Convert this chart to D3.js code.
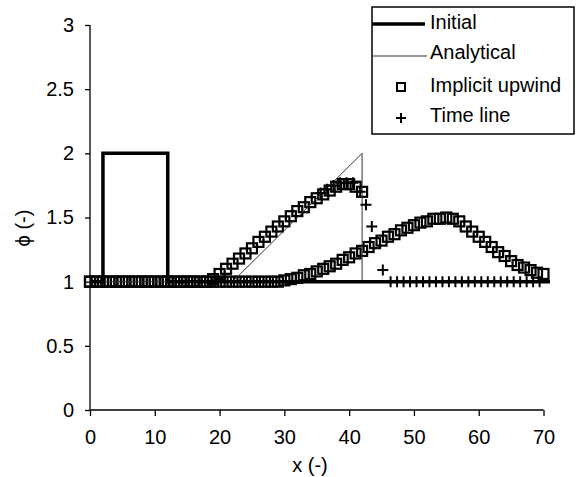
<!DOCTYPE html>
<html>
<head>
<meta charset="utf-8">
<script src="https://cdn.jsdelivr.net/npm/d3@7"></script>
<style>
  body { margin: 0; background: #fff; }
  text { font-family: "Liberation Sans", Arial, sans-serif; fill: #000; }
</style>
</head>
<body>
<div id="plot"></div>
<script>
// initial condition (square pulse)
const initX = [0, 2, 2, 12, 12, 71];
const initY = [1, 1, 2, 2, 1, 1];

// analytical solution (triangle with shock)
const anaX = [0, 22, 42, 42, 71];
const anaY = [1, 1, 2, 1, 1];

// implicit upwind, first time
const up1X = [0,1,2,3,4,5,6,7,8,9,10,11,12,13,14,15,16,17,18,19,20,21,22,23,24,25,26,27,28,29,30,31,32,33,34,35,36,37,38,39,40,41,42];
const up1Y = [1,1,1,1,1,1,1,1,1,1,1,1,1,1,1,1,1,1,1.0,1.02,1.06,1.10,1.14,1.18,1.22,1.26,1.31,1.35,1.39,1.43,1.47,1.51,1.55,1.58,1.62,1.65,1.68,1.71,1.74,1.76,1.76,1.74,1.70];

// implicit upwind, second time
const up2X = [0,1,2,3,4,5,6,7,8,9,10,11,12,13,14,15,16,17,18,19,20,21,22,23,24,25,26,27,28,29,30,31,32,33,34,35,36,37,38,39,40,41,42,43,44,45,46,47,48,49,50,51,52,53,54,55,56,57,58,59,60,61,62,63,64,65,66,67,68,69,70];
const up2Y = [1,1,1,1,1,1,1,1,1,1,1,1,1,1,1,1,1,1,1,1,1,1,1,1,1,1,1,1,1,1,1.01,1.02,1.03,1.05,1.06,1.08,1.10,1.12,1.14,1.17,1.19,1.22,1.24,1.27,1.30,1.32,1.35,1.37,1.40,1.42,1.44,1.46,1.47,1.49,1.49,1.50,1.49,1.47,1.43,1.39,1.35,1.31,1.27,1.23,1.20,1.16,1.13,1.11,1.09,1.07,1.06];

// time line
const tlX = [35.6,36.6,37.6,38.6,39.6,40.6,41.7,42.6,43.5,45.2,46.4,47.4,48.4,49.4,50.4,51.4,52.4,53.4,54.4,55.4,56.4,57.4,58.4,59.4,60.4,61.4,62.4,63.4,64.4,65.4,66.4,67.4,68.4,69.4];
const tlY = [1.69,1.72,1.75,1.77,1.77,1.77,1.70,1.60,1.43,1.09,1,1,1,1,1,1,1,1,1,1,1,1,1,1,1,1,1,1,1,1,1,1,1,1];

const yTicks = [0, 0.5, 1, 1.5, 2, 2.5, 3];
const xTicks = [0, 10, 20, 30, 40, 50, 60, 70];
const legendLabels = ["Initial", "Analytical", "Implicit upwind", "Time line"];

window.addEventListener("load", main);

function main(){
  const width = 576, height = 477;
  const zip = (xs, ys) => xs.map((x, i) => [x, ys[i]]);

  let x = d3.scaleLinear().domain([0, 70]).range([90, 543.5]);
  let y = d3.scaleLinear().domain([0, 3]).range([410, 25]);

  let svg = d3.select('#plot')
    .append('svg')
    .attr('width', width)
    .attr('height', height);

  // axes
  let xAxis = svg.append('g').attr('transform', 'translate(0,410)');
  xAxis.call(d3.axisBottom(x).tickValues(d3.range(0, 71, 5)).tickSize(5).tickFormat(''))
    .call(g => g.select('.domain').remove());
  xAxis.call(d3.axisBottom(x).tickValues(xTicks).tickSize(6).tickPadding(14)
    .tickFormat(d3.format('d')))
    .call(g => g.select('.domain').attr('d', 'M90,0H543.5'));
  xAxis.selectAll('text').attr('font-size', 20).attr('font-family', '"Liberation Sans", Arial');
  xAxis.selectAll('line, path').attr('stroke', '#000').attr('stroke-width', 1.3);

  let yAxis = svg.append('g').attr('transform', 'translate(90,0)');
  yAxis.call(d3.axisLeft(y).tickValues(d3.range(0, 31).map(d => d / 10)).tickSize(4).tickFormat(''))
    .call(g => g.select('.domain').remove());
  yAxis.call(d3.axisLeft(y).tickValues(yTicks).tickSize(5).tickPadding(11)
    .tickFormat(d => d3.format('')(d)))
    .call(g => g.select('.domain').attr('d', 'M0,25V410'));
  yAxis.selectAll('text').attr('font-size', 20).attr('font-family', '"Liberation Sans", Arial');
  yAxis.selectAll('line, path').attr('stroke', '#000').attr('stroke-width', 1.3);

  svg.append('text').attr('x', 310).attr('y', 472)
    .attr('text-anchor', 'middle').attr('font-size', 20).text('x (-)');
  svg.append('text')
    .attr('transform', 'translate(23,228) rotate(-90)')
    .attr('text-anchor', 'middle').attr('dy', '0.35em')
    .attr('font-size', 20).text('\u03D5 (-)');

  let line = d3.line().x(d => x(d[0])).y(d => y(d[1]));

  // squares
  let sq = 10;
  svg.append('g').selectAll('rect')
    .data(zip(up1X, up1Y).concat(zip(up2X, up2Y)))
    .join('rect')
    .attr('x', d => x(d[0]) - sq / 2)
    .attr('y', d => y(d[1]) - sq / 2)
    .attr('width', sq).attr('height', sq)
    .attr('fill', 'none').attr('stroke', '#000').attr('stroke-width', 2.2);

  // analytical
  svg.append('path').datum(zip(anaX, anaY))
    .attr('d', line).attr('fill', 'none')
    .attr('stroke', '#333').attr('stroke-width', 1);

  // initial
  svg.append('path').datum(zip(initX, initY))
    .attr('d', line).attr('fill', 'none')
    .attr('stroke', '#000').attr('stroke-width', 3.5);

  // pluses
  let pl = 5.5;
  svg.append('g').selectAll('path')
    .data(zip(tlX, tlY))
    .join('path')
    .attr('d', d => `M${x(d[0]) - pl},${y(d[1])}h${2 * pl}M${x(d[0])},${y(d[1]) - pl}v${2 * pl}`)
    .attr('stroke', '#000').attr('stroke-width', 2);

  // legend
  let lg = svg.append('g');
  lg.append('rect').attr('x', 372).attr('y', 7).attr('width', 202).attr('height', 127)
    .attr('fill', '#fff').attr('stroke', '#000').attr('stroke-width', 1.5);
  let rows = [22, 52, 85, 115];
  lg.selectAll('text').data(legendLabels).join('text')
    .attr('x', 430).attr('y', (d, i) => rows[i]).attr('dy', '0.35em')
    .attr('font-size', 20).text(d => d);
  lg.append('line').attr('x1', 372).attr('x2', 425).attr('y1', 24).attr('y2', 24)
    .attr('stroke', '#000').attr('stroke-width', 3.5);
  lg.append('line').attr('x1', 372).attr('x2', 427).attr('y1', 56).attr('y2', 56)
    .attr('stroke', '#333').attr('stroke-width', 1);
  lg.append('rect').attr('x', 397).attr('y', 83).attr('width', 8).attr('height', 8)
    .attr('fill', 'none').attr('stroke', '#000').attr('stroke-width', 2);
  lg.append('path').attr('d', 'M396,118h10M401,113v10')
    .attr('stroke', '#000').attr('stroke-width', 2);
}
</script>
</body>
</html>
